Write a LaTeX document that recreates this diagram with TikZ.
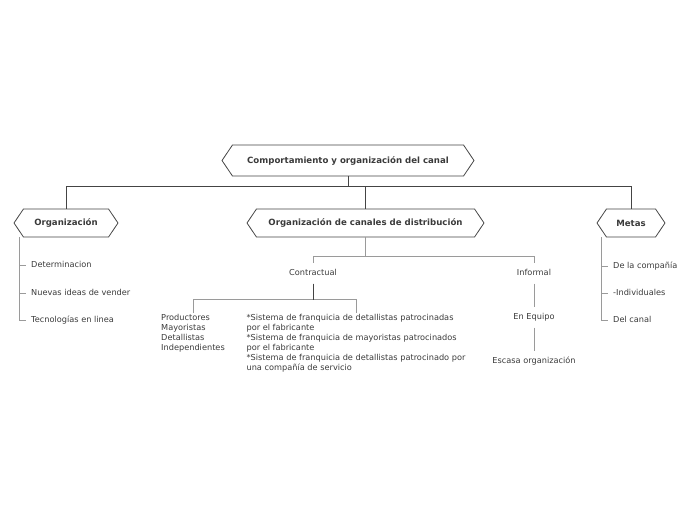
\documentclass[tikz,border=0pt]{standalone}
\usepackage{fontspec}
\setmainfont{DejaVu Sans}
\usetikzlibrary{positioning,shapes.symbols}
\definecolor{edgegray}{HTML}{444444}
\definecolor{twiggray}{HTML}{9A9A9A}
\definecolor{textgray}{HTML}{3A3A3A}

\begin{document}
\begin{tikzpicture}[x=1pt,y=-1pt,
		hex/.style={signal,signal to=west and east,signal pointer angle=112,draw=edgegray,line width=0.8pt,
			font=\bfseries\fontsize{8.6}{10}\selectfont,text=textgray,inner sep=0pt,minimum height=28pt},
		leaf/.style={font=\fontsize{8.2}{10}\selectfont,text=textgray,inner xsep=5pt,inner ysep=1pt,
			text height=6pt,text depth=2pt},
		mid/.style={leaf,inner ysep=6pt},
		block/.style={font=\fontsize{8.2}{10}\selectfont,text=textgray,align=left,inner sep=4pt},
		link/.style={draw=edgegray,line width=0.8pt},
		twig/.style={draw=twiggray,line width=0.6pt}]
		\useasboundingbox (0,0) rectangle (696,520);

		% top level
		\node[hex,minimum width=252pt,minimum height=31pt]	(root)	at (348,160.5)	{Comportamiento y organización del canal};
		\node[hex,minimum width=104pt]						(org)	at (66,223)		{Organización};
		\node[hex,minimum width=237pt]						(dist)	at (365.5,223)	{Organización de canales de distribución};
		\node[hex,minimum width=68pt]						(metas)	at (631,223)	{Metas};

		\draw[link] (root.south) -- ++(0,10) -| (org.north);
		\draw[link] (root.south) -- ++(0,10) -| (dist.north);
		\draw[link] (root.south) -- ++(0,10) -| (metas.north);

		% Organizacion
		\node[leaf,anchor=west]								(det)	at (26,265.5)	{Determinacion};
		\node[leaf,below=27.5pt of det.west,anchor=west]	(nuevas)				{Nuevas ideas de vender};
		\node[leaf,below=27pt of nuevas.west,anchor=west]	(tec)					{Tecnologías en linea};

		\draw[twig] ([xshift=-47pt]org.south) |- (det.west);
		\draw[twig] ([xshift=-47pt]org.south) |- (nuevas.west);
		\draw[twig] ([xshift=-47pt]org.south) |- (tec.west);

		% Metas
		\node[leaf,anchor=west]								(comp)	at (608,266.5)	{De la compañía};
		\node[leaf,below=27pt of comp.west,anchor=west]		(indiv)					{-Individuales};
		\node[leaf,below=27pt of indiv.west,anchor=west]	(canal)					{Del canal};

		\draw[twig] ([xshift=-30pt]metas.south) |- (comp.west);
		\draw[twig] ([xshift=-30pt]metas.south) |- (indiv.west);
		\draw[twig] ([xshift=-30pt]metas.south) |- (canal.west);

		% canales de distribucion
		\node[mid]	(contr)	at (313,273.5)	{Contractual};
		\node[mid]	(inf)	at (534,273.5)	{Informal};
		\node[mid]	(equipo) at (534,317.5)	{En Equipo};
		\node[mid]	(escasa) at (534,361.5)	{Escasa organización};
		\node[block,anchor=north]	(prod)	at (193,310)	{Productores\\Mayoristas\\Detallistas\\Independientes};
		\node[block,anchor=north]	(sist)	at (356,310)	{*Sistema de franquicia de detallistas patrocinadas\\por el fabricante\\*Sistema de franquicia de mayoristas patrocinados\\por el fabricante\\*Sistema de franquicia de detallistas patrocinado por\\una compañía de servicio};

		\draw[twig] (dist.south) -- ++(0,19) -| (contr.north);
		\draw[twig] (dist.south) -- ++(0,19) -| (inf.north);
		\draw[twig] (contr.south) -- ++(0,16) -| ([yshift=-3pt]prod.north);
		\draw[twig] (contr.south) -- ++(0,16) -| ([yshift=-3pt]sist.north);
		\draw[link] (contr.south) -- ++(0,16);
		\draw[twig] (inf) -- (equipo);
		\draw[twig] (equipo) -- (escasa);
	\end{tikzpicture}
\end{document}
